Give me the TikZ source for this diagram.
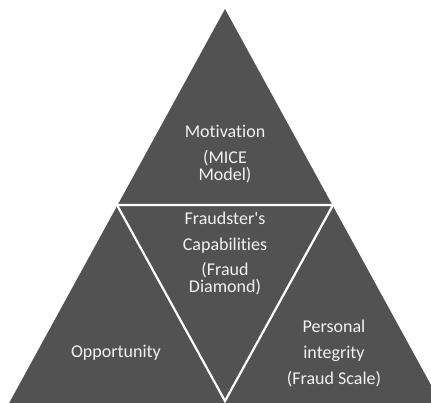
\documentclass[tikz,border=0pt]{standalone}
\usepackage{fontspec}
\setmainfont{Carlito}[Ligatures={TeX,NoCommon}]
\usetikzlibrary{positioning}
\definecolor{pyramidgray}{RGB}{82, 82, 82}
\definecolor{facetwhite}{RGB}{242, 242, 242}

\begin{document}
\begin{tikzpicture}[
    x=1pt, y=-1pt,
    divider/.style={draw=white, line width=2.2pt},
    facet/.style={text=facetwhite, font=\fontsize{18}{17}\selectfont, align=center}
]
    \useasboundingbox (0,0) rectangle (431,402);
    \clip (0,0) rectangle (431,402);

    % Corners
    \coordinate (apex) at (225,9);
    \coordinate (baseL) at (5.3,410);
    \coordinate (baseR) at (444.7,410);
    \coordinate (innerL) at (117,205);
    \coordinate (innerR) at (333,205);
    \coordinate (innerB) at (225,401);

    % Pyramid
    \fill[pyramidgray] (apex) -- (baseL) -- (baseR) -- cycle;
    \draw[divider] (innerL) -- (innerR) -- (innerB) -- cycle;

    % Labels
    \node[facet] (motivation) at (225,154) {Motivation\\[9pt](MICE\\Model)};
    \node[facet] (capabilities) at (225,253) {Fraudster\textquotesingle s\\[9pt]Capabilities\\[8pt](Fraud\\Diamond)};
    \node[facet] (opportunity) at (116,353) {Opportunity};
    \node[facet] (integrity) at (334,353) {Personal\\[9pt]integrity\\[9pt](Fraud Scale)};
\end{tikzpicture}
\end{document}
